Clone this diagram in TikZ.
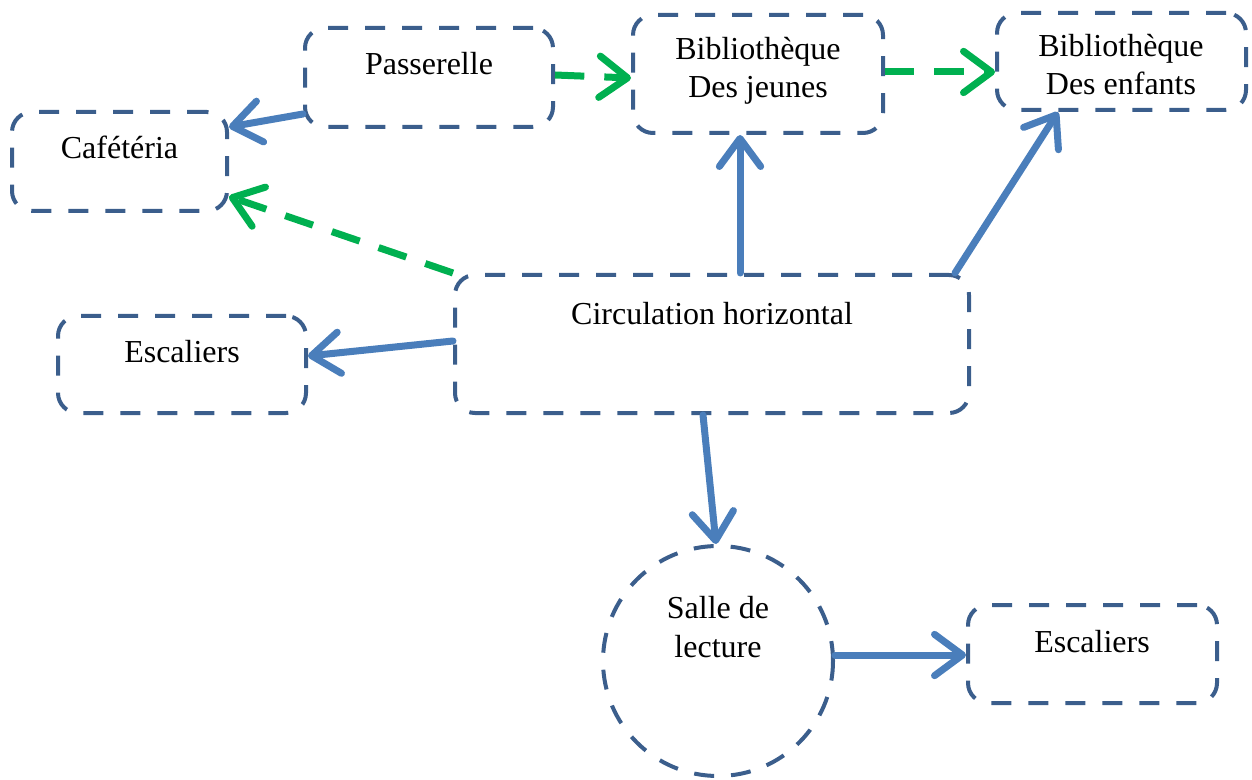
\documentclass[tikz,border=0pt]{standalone}
\usepackage{fontspec}
\setmainfont{Liberation Serif}
\usetikzlibrary{arrows.meta,calc}
\definecolor{boxblue}{HTML}{3B5E8C}
\definecolor{arrowblue}{HTML}{4A7EBB}
\definecolor{flowgreen}{HTML}{00B050}
\tikzset{
  box/.style={draw=boxblue, line width=3pt, dash pattern=on 15pt off 12.75pt,
    rounded corners=15pt, inner sep=0pt},
  roundbox/.style={draw=boxblue, line width=3pt, dash pattern=on 15pt off 12.75pt,
    circle, inner sep=0pt},
  txt/.style={font=\fontsize{24}{28.8}\selectfont, inner sep=0pt, align=center, anchor=base},
  tip/.style={-{Straight Barb[length=21pt,width=31pt,round]}},
  solidarrow/.style={draw=arrowblue, line width=5.25pt, line cap=round, tip},
  dasharrow/.style={draw=flowgreen, line width=5.25pt, dash pattern=on 22pt off 15pt, tip},
}
\begin{document}
\begin{tikzpicture}[x=0.75pt, y=-0.75pt]
\useasboundingbox (0,0) rectangle (1252,780);

% boxes
\node[box, minimum width=186pt, minimum height=74.25pt] (pass) at (429,77.5) {};
\node[box, minimum width=161.25pt, minimum height=74.25pt] (caf) at (119.5,161.5) {};
\node[box, minimum width=187.5pt, minimum height=88.5pt] (bj) at (758,74) {};
\node[box, minimum width=186.75pt, minimum height=72.75pt] (be) at (1121.5,61.5) {};
\node[box, minimum width=385.5pt, minimum height=103.5pt] (circ) at (712,344) {};
\node[box, minimum width=186pt, minimum height=72.75pt] (escl) at (182,364.5) {};
\node[roundbox, minimum size=172.5pt] (salle) at (718,661) {};
\node[box, minimum width=186.75pt, minimum height=73.5pt] (escr) at (1092.5,654) {};

% labels (base anchor sits on the last line)
\node[txt] (passT) at (429,75) {Passerelle};
\node[txt] (cafT) at (119.5,159) {Cafétéria};
\node[txt] (bjT) at (758,98) {Bibliothèque\\Des jeunes};
\node[txt] (beT) at (1121,95) {Bibliothèque\\Des enfants};
\node[txt] (circT) at (712,325) {Circulation horizontal};
\node[txt] (esclT) at (182,363) {Escaliers};
\node[txt] (salleT) at (718,657) {Salle de\\lecture};
\node[txt] (escrT) at (1092,652) {Escaliers};

% connectors
\draw[solidarrow] ($(pass.west)+(0,36.5)$) -- ($(caf.east)+(0,-34.5)$);
\draw[dasharrow] ($(pass.east)+(0,-2.5)$) -- ($(bj.west)+(0,4)$);
\draw[dasharrow] ($(bj.east)+(0,-2)$) -- ($(be.west)+(0,10.5)$);
\draw[dasharrow] (circ.north west) -- ($(caf.east)+(0,35)$);
\draw[solidarrow] ($(circ.north)+(28,0)$) -- ($(bj.south)+(-18,0)$);
\draw[solidarrow] ($(circ.north)+(243,0)$) -- ($(be.south)+(-63.5,0)$);
\draw[solidarrow] ($(circ.west)+(0,-3)$) -- ($(escl.east)+(0,-8.5)$);
\draw[solidarrow] ($(circ.south)+(-9,0)$) -- ($(salle.north)+(-2,0)$);
\draw[solidarrow] ($(salle.east)+(0,-6)$) -- ($(escr.west)+(0,1)$);
\end{tikzpicture}
\end{document}
